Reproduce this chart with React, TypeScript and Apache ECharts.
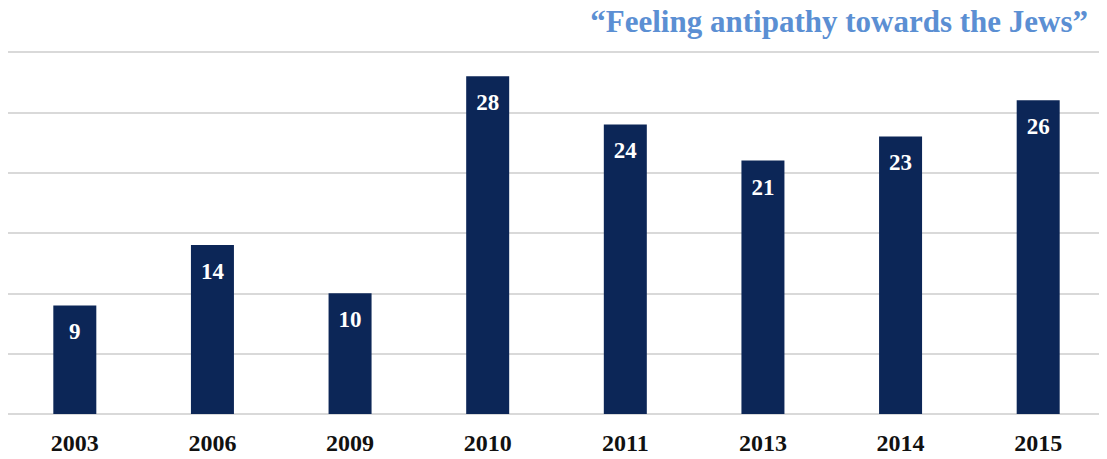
import React, { useEffect, useRef } from "react";
import * as echarts from "echarts";

const categories = ["2003", "2006", "2009", "2010", "2011", "2013", "2014", "2015"];
const values = [9, 14, 10, 28, 24, 21, 23, 26];
const titleText = "\u201CFeeling antipathy towards the Jews\u201D";

const FONT = "'Liberation Serif', 'Times New Roman', serif";

export default function App() {
  const ref = useRef<HTMLDivElement>(null);
  useEffect(() => {
    if (!ref.current) return;
    const chart = echarts.init(ref.current, undefined, { renderer: "svg" });
    chart.setOption({
      animation: false,
      title: {
        text: titleText,
        right: 14,
        top: 1,
        textStyle: { fontFamily: FONT, fontWeight: "bold", fontSize: 31, color: "#5b8fd3" },
      },
      grid: { left: 6, right: 0, top: 52, bottom: 45, containLabel: false },
      xAxis: {
        type: "category",
        data: categories,
        axisLine: { show: true, lineStyle: { color: "#d9d9d9", width: 2 } },
        axisTick: { show: false },
        axisLabel: {
          fontFamily: FONT,
          fontWeight: "bold",
          fontSize: 24,
          color: "#111",
          margin: 17,
        },
      },
      yAxis: {
        type: "value",
        min: 0,
        max: 30,
        interval: 5,
        axisLabel: { show: false },
        axisLine: { show: false },
        axisTick: { show: false },
        splitLine: { lineStyle: { color: "#d9d9d9", width: 2 } },
      },
      series: [
        {
          type: "bar",
          data: values,
          barWidth: 43,
          itemStyle: { color: "#0c2657" },
          label: {
            show: true,
            position: "insideTop",
            distance: 15,
            fontFamily: FONT,
            fontWeight: "bold",
            fontSize: 23,
            color: "#fff",
          },
        },
      ],
    });
    return () => chart.dispose();
  }, []);
  return <div ref={ref} style={{ width: 1107, height: 459, margin: -8 }} />;
}
